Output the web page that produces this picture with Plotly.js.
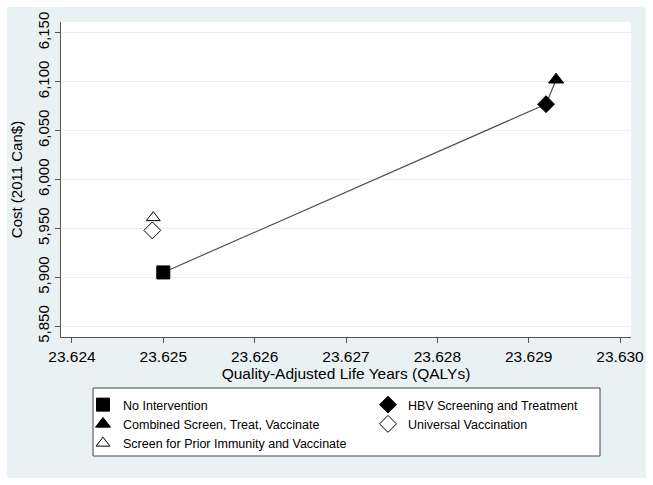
<!DOCTYPE html>
<html>
<head>
<meta charset="utf-8">
<script src="https://cdn.plot.ly/plotly-3.0.1.min.js"></script>
<style>html,body{margin:0;padding:0;background:#fff;}#chart{width:653px;height:485px;}</style>
</head>
<body>
<div id="chart"></div>
<script>
// Strategies and their outcomes
const strategies = ["No Intervention", "HBV Screening and Treatment", "Combined Screen, Treat, Vaccinate", "Universal Vaccination", "Screen for Prior Immunity and Vaccinate"];
const qalys = [23.62500, 23.62919, 23.62930, 23.62488, 23.62489];
const costs = [5905, 6077, 6102, 5948, 5961];
const symbols = ["square", "diamond", "triangle-up", "diamond", "triangle-up"];
const fills = ["#000000", "#000000", "#000000", "#ffffff", "#ffffff"];
const sizes = [13, 13, 13, 13, 12];
// Efficiency frontier (indices into the arrays above)
const frontier = [0, 1, 2];
const yTicks = [5850, 5900, 5950, 6000, 6050, 6100, 6150];
const xTicks = [23.624, 23.625, 23.626, 23.627, 23.628, 23.629, 23.630];

const FONT = "Liberation Sans, Arial, Helvetica, sans-serif";
const traces = [{
  x: frontier.map(i => qalys[i]),
  y: frontier.map(i => costs[i]),
  mode: "lines",
  line: {color: "#505050", width: 1.2},
  showlegend: false,
  hoverinfo: "skip"
}];
strategies.forEach((s, i) => {
  traces.push({
    x: [qalys[i]], y: [costs[i]], name: s, mode: "markers",
    marker: {symbol: symbols[i], size: sizes[i], color: fills[i], line: {color: "#000", width: 1}}
  });
});

const L = 61, R = 22, T = 22, B = 148, W = 653, H = 485;
const pw = W - L - R, ph = H - T - B;
const px = v => (v - L) / pw;          // pixel x -> paper x
const py = v => (T + ph - v) / ph;     // pixel y -> paper y

const layout = {
  width: W, height: H,
  margin: {l: L, r: R, t: T, b: B, pad: 0, autoexpand: false},
  paper_bgcolor: "#eaf1f3",
  plot_bgcolor: "#ffffff",
  font: {family: FONT, color: "#000", size: 15},
  showlegend: true,
  xaxis: {
    range: [23.62388, 23.63012], tickvals: xTicks, tickformat: ".3f",
    showgrid: false, zeroline: false, showline: true, linecolor: "#555", linewidth: 1,
    ticks: "outside", ticklen: 5, tickcolor: "#555", tickfont: {size: 15.5},
    title: {text: "Quality-Adjusted Life Years (QALYs)", font: {size: 15.5}, standoff: 4},
    automargin: false
  },
  yaxis: {
    range: [5839, 6161], tickvals: yTicks, tickformat: ",",
    showgrid: true, gridcolor: "#eaf1f3", gridwidth: 1, zeroline: false,
    showline: true, linecolor: "#555", linewidth: 1,
    ticks: "outside", ticklen: 5, tickcolor: "#555", tickangle: -90, tickfont: {size: 15},
    title: {text: "Cost (2011 Can$)", font: {size: 15}, standoff: 8},
    automargin: false
  },
  legend: {
    orientation: "h", entrywidth: 240, entrywidthmode: "pixels",
    x: px(83), y: py(390), xanchor: "left", yanchor: "top",
    bgcolor: "rgba(0,0,0,0)", borderwidth: 0,
    font: {size: 12.5, family: FONT}, itemwidth: 30, tracegroupgap: 0
  },
  shapes: [{
    type: "rect", xref: "paper", yref: "paper",
    x0: px(93), x1: px(600), y0: py(456), y1: py(388),
    line: {color: "#444", width: 1}, fillcolor: "#ffffff", layer: "below"
  }, {
    type: "rect", xref: "paper", yref: "paper",
    x0: -L / pw, x1: (W - L) / pw, y0: -B / ph, y1: 1 + T / ph,
    line: {color: "#ffffff", width: 14}, fillcolor: "rgba(0,0,0,0)", layer: "above"
  }]
};

Plotly.newPlot("chart", traces, layout, {displayModeBar: false, staticPlot: true});
</script>
</body>
</html>
